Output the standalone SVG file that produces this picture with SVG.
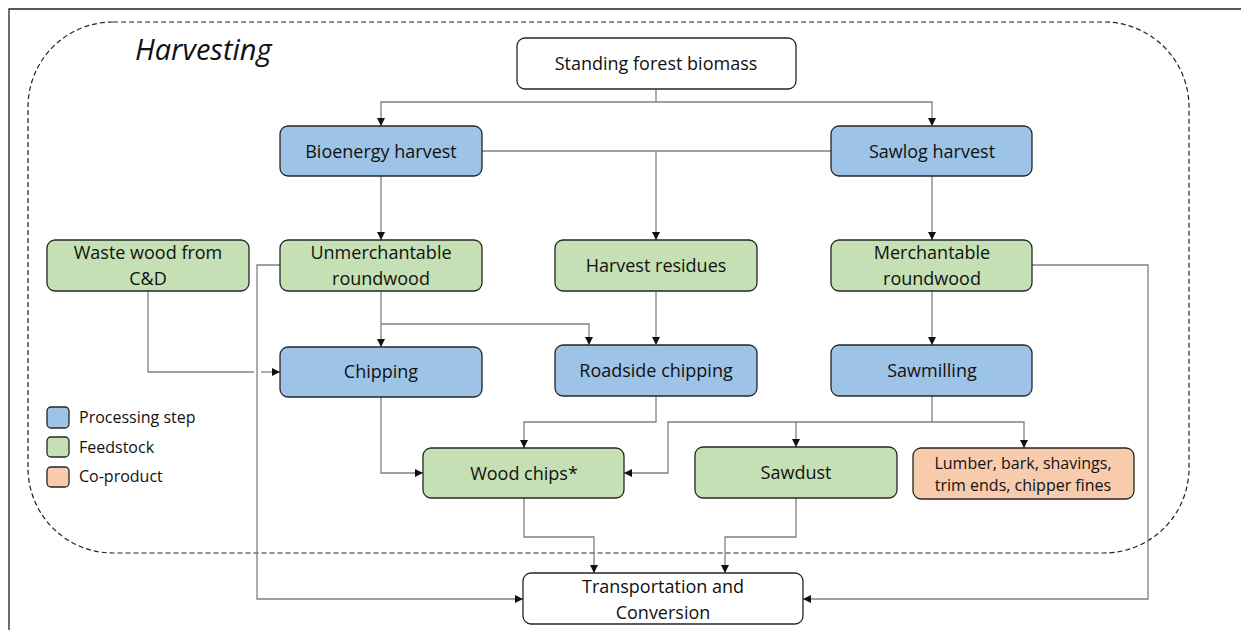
<svg xmlns="http://www.w3.org/2000/svg" width="1241" height="630" viewBox="0 0 1241 630">
<style>
.box{stroke:#262626;stroke-width:1.3}
.proc{fill:#9dc3e6}
.feed{fill:#c5e0b4}
.co{fill:#f8cbad}
.plain{fill:#ffffff}
.t{font-family:"Open Sans","Noto Sans",sans-serif;font-size:18px;fill:#111;text-anchor:middle}
.ts{font-family:"Open Sans","Noto Sans",sans-serif;font-size:16px;fill:#111;text-anchor:middle}
.lg{font-family:"Open Sans","Noto Sans",sans-serif;font-size:16px;fill:#111}
.c{fill:none;stroke:#808080;stroke-width:1.3}
</style>
<defs>
<marker id="ah" viewBox="0 0 10 10" refX="10" refY="5" markerWidth="8" markerHeight="8" markerUnits="userSpaceOnUse" orient="auto">
<path d="M0,0 L10,5 L0,10 z" fill="#111"/>
</marker>
</defs>
<rect width="1241" height="630" fill="#ffffff"/>
<path d="M9,630 V9 H1241" fill="none" stroke="#222" stroke-width="1.3"/>
<rect x="28" y="22" width="1161" height="531" rx="85" ry="85" fill="none" stroke="#222" stroke-width="1.2" stroke-dasharray="5,3"/>
<text x="135" y="60" font-family="'Open Sans','Noto Sans',sans-serif" font-size="29" font-style="italic" fill="#111">Harvesting</text>

<g id="connectors">
<path class="c" d="M656,89 V102"/>
<path class="c" d="M656,102 H381 V126" marker-end="url(#ah)"/>
<path class="c" d="M656,102 H932 V126" marker-end="url(#ah)"/>
<path class="c" d="M482,151 H831"/>
<path class="c" d="M656,151 V240" marker-end="url(#ah)"/>
<path class="c" d="M381,176 V240" marker-end="url(#ah)"/>
<path class="c" d="M932,176 V240" marker-end="url(#ah)"/>
<path class="c" d="M280,265 H257 V599 H523" marker-end="url(#ah)"/>
<path class="c" d="M381,291 V347" marker-end="url(#ah)"/>
<path class="c" d="M381,324 H589 V345" marker-end="url(#ah)"/>
<path class="c" d="M656,291 V345" marker-end="url(#ah)"/>
<path class="c" d="M932,291 V345" marker-end="url(#ah)"/>
<path class="c" d="M1032,265 H1148 V599 H803" marker-end="url(#ah)"/>
<path class="c" d="M148,291 V372 H254"/>
<path class="c" d="M261,372 H280" marker-end="url(#ah)"/>
<path class="c" d="M381,397 V473 H423" marker-end="url(#ah)"/>
<path class="c" d="M656,396 V422 H524 V448" marker-end="url(#ah)"/>
<path class="c" d="M932,396 V422"/>
<path class="c" d="M932,422 H1024 V448" marker-end="url(#ah)"/>
<path class="c" d="M932,422 H668 V473 H624" marker-end="url(#ah)"/>
<path class="c" d="M796,422 V447" marker-end="url(#ah)"/>
<path class="c" d="M524,498 V537 H594 V573" marker-end="url(#ah)"/>
<path class="c" d="M796,498 V537 H725 V573" marker-end="url(#ah)"/>
</g>

<g id="standing"><rect class="box plain" x="517" y="38" width="279" height="51" rx="8"/><text class="t" x="656" y="70">Standing forest biomass</text></g>
<g id="bioenergy"><rect class="box proc" x="280" y="126" width="202" height="50" rx="8"/><text class="t" x="381" y="158">Bioenergy harvest</text></g>
<g id="sawlog"><rect class="box proc" x="831" y="126" width="201" height="50" rx="8"/><text class="t" x="932" y="158">Sawlog harvest</text></g>
<g id="waste"><rect class="box feed" x="47" y="240" width="202" height="51" rx="8"/><text class="t" x="148" y="259">Waste wood from</text><text class="t" x="148" y="285">C&amp;D</text></g>
<g id="unmerch"><rect class="box feed" x="280" y="240" width="202" height="51" rx="8"/><text class="t" x="381" y="259">Unmerchantable</text><text class="t" x="381" y="285">roundwood</text></g>
<g id="residues"><rect class="box feed" x="555" y="240" width="202" height="51" rx="8"/><text class="t" x="656" y="272">Harvest residues</text></g>
<g id="merch"><rect class="box feed" x="831" y="240" width="201" height="51" rx="8"/><text class="t" x="932" y="259">Merchantable</text><text class="t" x="932" y="285">roundwood</text></g>
<g id="chipping"><rect class="box proc" x="280" y="347" width="202" height="50" rx="8"/><text class="t" x="381" y="378">Chipping</text></g>
<g id="roadside"><rect class="box proc" x="555" y="345" width="202" height="51" rx="8"/><text class="t" x="656" y="377">Roadside chipping</text></g>
<g id="sawmilling"><rect class="box proc" x="831" y="345" width="201" height="51" rx="8"/><text class="t" x="932" y="377">Sawmilling</text></g>
<g id="woodchips"><rect class="box feed" x="423" y="448" width="201" height="50" rx="8"/><text class="t" x="524" y="480">Wood chips*</text></g>
<g id="sawdust"><rect class="box feed" x="695" y="447" width="202" height="51" rx="8"/><text class="t" x="796" y="479">Sawdust</text></g>
<g id="lumber"><rect class="box co" x="913" y="448" width="221" height="51" rx="8"/><text class="ts" x="1023" y="469">Lumber, bark, shavings,</text><text class="ts" x="1023" y="491">trim ends, chipper fines</text></g>
<g id="transport"><rect class="box plain" x="523" y="573" width="280" height="51" rx="8"/><text class="t" x="663" y="593">Transportation and</text><text class="t" x="663" y="619">Conversion</text></g>

<g id="legend">
<rect class="box proc" x="47" y="407" width="22" height="21" rx="4"/><text class="lg" x="79" y="423">Processing step</text>
<rect class="box feed" x="47" y="437" width="22" height="20" rx="4"/><text class="lg" x="79" y="453">Feedstock</text>
<rect class="box co" x="47" y="467" width="22" height="20" rx="4"/><text class="lg" x="79" y="482">Co-product</text>
</g>
</svg>
